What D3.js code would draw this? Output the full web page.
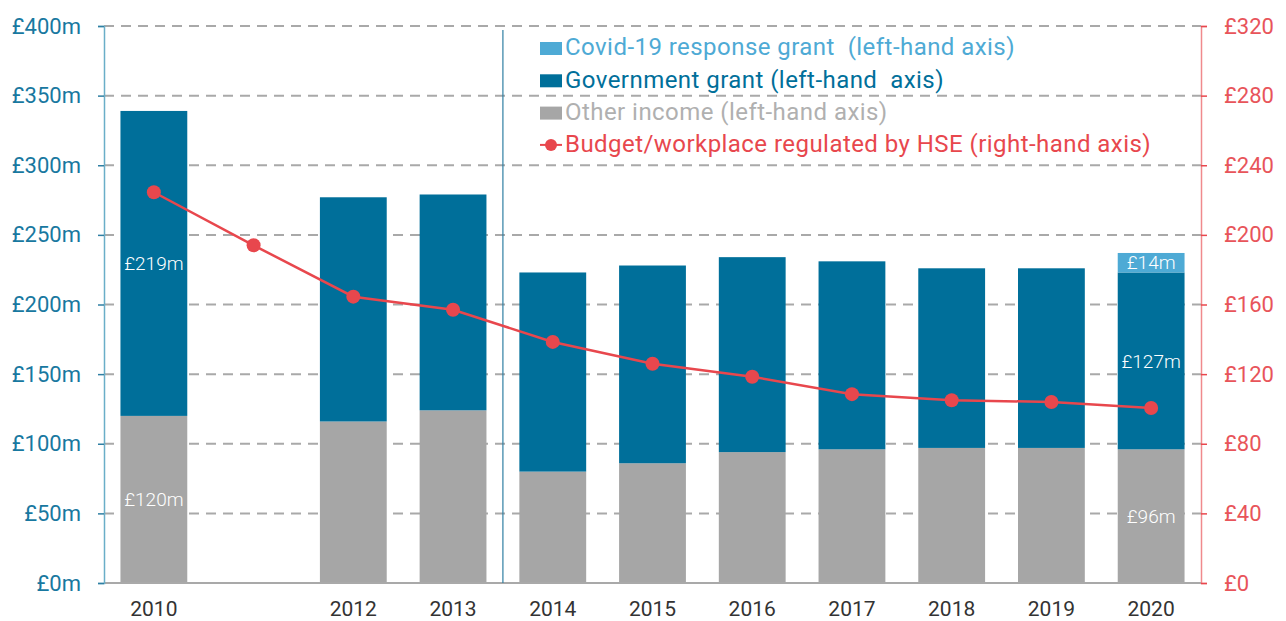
<!DOCTYPE html>
<html>
<head>
<meta charset="utf-8">
<script src="https://cdn.jsdelivr.net/npm/d3@7"></script>
<style>
  html, body { margin: 0; padding: 0; background: #fff; }
  svg { display: block; font-family: Roboto, "Noto Sans", sans-serif; }
  .legend text { white-space: pre; }
</style>
</head>
<body>
<svg id="chart" width="1286" height="621"></svg>
<script>
// Years on the x axis (2011 has only a line point)
const years = ["2010", "2011", "2012", "2013", "2014", "2015", "2016", "2017", "2018", "2019", "2020"];
// Income, £m (left-hand axis)
const otherIncome     = [120, null, 116, 124, 80, 86, 94, 96, 97, 97, 96];
const governmentGrant = [219, null, 161, 155, 143, 142, 140, 135, 129, 129, 127];
const covidGrant      = [0, null, 0, 0, 0, 0, 0, 0, 0, 0, 14];
// Budget per workplace regulated by HSE, £ (right-hand axis)
const budgetPerWorkplace = [224.5, 194, 164.5, 157, 138.5, 126, 118.5, 108.5, 105, 104, 100.5];
// Axis ticks
const leftTicks  = [0, 50, 100, 150, 200, 250, 300, 350, 400];
const rightTicks = [0, 40, 80, 120, 160, 200, 240, 280, 320];
// Values printed inside bars: [year index, series, value]
const barLabels = [
  [0, "other", 120], [0, "gov", 219],
  [10, "other", 96], [10, "gov", 127], [10, "covid", 14]
];

const C = {
  gov: "#006f9a", other: "#a6a6a6", covid: "#4eaad5",
  line: "#e8474d", leftText: "#1878a0", rightText: "#e8545a",
  grid: "#a9a9a9"
};

const svg = d3.select("#chart");
const M = { left: 104, right: 1201, top: 26, bottom: 583 };

const x = d3.scaleBand().domain(years).range([M.left, M.right]).paddingInner(0.33).paddingOuter(0.165);
const yL = d3.scaleLinear().domain([0, 400]).range([M.bottom, M.top]);
const yR = d3.scaleLinear().domain([0, 320]).range([M.bottom, M.top]);

// Dashed gridlines
svg.append("g").selectAll("line").data(leftTicks.filter(d => d > 0)).join("line")
  .attr("x1", M.left).attr("x2", M.right)
  .attr("y1", d => yL(d)).attr("y2", d => yL(d))
  .attr("stroke", C.grid).attr("stroke-width", 2).attr("stroke-dasharray", "10,7");

// Stacked bars
const rows = years.map((yr, i) => ({ yr, i, other: otherIncome[i], gov: governmentGrant[i], covid: covidGrant[i] }))
  .filter(d => d.other != null);
const stack = d3.stack().keys(["other", "gov", "covid"])(rows);
const barG = svg.append("g");
stack.forEach(layer => {
  barG.selectAll(null).data(layer.filter(d => d[1] > d[0])).join("rect")
    .attr("x", d => x(d.data.yr))
    .attr("width", x.bandwidth())
    .attr("y", d => yL(d[1]))
    .attr("height", d => yL(d[0]) - yL(d[1]))
    .attr("fill", C[layer.key]);
});

// Labels inside bars, centred in each segment
const keyIndex = { other: 0, gov: 1, covid: 2 };
svg.append("g").selectAll("text").data(barLabels).join("text")
  .attr("x", d => x(years[d[0]]) + x.bandwidth() / 2)
  .attr("y", d => {
    const seg = stack[keyIndex[d[1]]].find(s => s.data.i === d[0]);
    return (yL(seg[0]) + yL(seg[1])) / 2;
  })
  .attr("dy", "0.35em")
  .attr("text-anchor", "middle")
  .attr("fill", "#fff").attr("font-size", 19).attr("font-weight", 300)
  .text(d => "£" + d[2] + "m");

// Baseline
svg.append("line").attr("x1", M.left).attr("x2", M.right)
  .attr("y1", M.bottom).attr("y2", M.bottom)
  .attr("stroke", "#a9a9a9").attr("stroke-width", 2);

// Divider between 2013 and 2014
const divX = (x("2013") + x.bandwidth() + x("2014")) / 2;
svg.append("line").attr("x1", divX).attr("x2", divX)
  .attr("y1", 30).attr("y2", M.bottom)
  .attr("stroke", "#2f7fa3").attr("stroke-width", 1.2);

// Left axis
const axL = svg.append("g").attr("transform", `translate(${M.left},0)`)
  .call(d3.axisLeft(yL).tickValues(leftTicks).tickFormat(d => "£" + d + "m").tickSize(6).tickPadding(17));
axL.select(".domain").attr("stroke", "#6aaec8").attr("stroke-width", 1.5);
axL.selectAll(".tick line").attr("stroke", "#2f7fa3").attr("stroke-width", 1.5);
axL.selectAll("text").attr("fill", C.leftText).attr("font-size", 22).attr("font-family", "Roboto, sans-serif");

// Right axis
const axR = svg.append("g").attr("transform", `translate(${M.right},0)`)
  .call(d3.axisRight(yR).tickValues(rightTicks).tickFormat(d => "£" + d).tickSize(6).tickPadding(17));
axR.select(".domain").attr("stroke", "#f08a8d").attr("stroke-width", 1.5);
axR.selectAll(".tick line").attr("stroke", C.line).attr("stroke-width", 1.5);
axR.selectAll("text").attr("fill", C.rightText).attr("font-size", 22).attr("font-family", "Roboto, sans-serif");

// X axis labels
svg.append("g").selectAll("text").data(years.filter(y => y !== "2011")).join("text")
  .attr("x", d => x(d) + x.bandwidth() / 2).attr("y", 609)
  .attr("dy", "0.35em").attr("text-anchor", "middle")
  .attr("fill", "#333").attr("font-size", 21)
  .text(d => d);

// Budget per workplace line
const line = d3.line().x((d, i) => x(years[i]) + x.bandwidth() / 2).y(d => yR(d));
svg.append("path").datum(budgetPerWorkplace).attr("d", line)
  .attr("fill", "none").attr("stroke", C.line).attr("stroke-width", 2.5);
svg.append("g").selectAll("circle").data(budgetPerWorkplace).join("circle")
  .attr("cx", (d, i) => x(years[i]) + x.bandwidth() / 2).attr("cy", d => yR(d))
  .attr("r", 7).attr("fill", C.line);

// Legend
const legend = [
  { label: "Covid-19 response grant  (left-hand axis)", color: C.covid, type: "box" },
  { label: "Government grant (left-hand  axis)", color: C.gov, type: "box" },
  { label: "Other income (left-hand axis)", color: "#a6a6a6", text: "#b0b0b0", type: "box" },
  { label: "Budget/workplace regulated by HSE (right-hand axis)", color: C.line, type: "line" }
];
const lg = svg.append("g").attr("class", "legend").attr("transform", "translate(540,0)");
legend.forEach((d, i) => {
  const cy = 47 + i * 32.3;
  if (d.type === "box") {
    lg.append("rect").attr("x", 0).attr("y", cy - 5).attr("width", 22).attr("height", 13).attr("fill", d.color);
  } else {
    lg.append("line").attr("x1", 0).attr("x2", 22).attr("y1", cy + 1).attr("y2", cy + 1)
      .attr("stroke", d.color).attr("stroke-width", 2);
    lg.append("circle").attr("cx", 11).attr("cy", cy + 1).attr("r", 6).attr("fill", d.color);
  }
  lg.append("text").attr("x", 25).attr("y", cy).attr("dy", "0.35em")
    .attr("fill", d.text || d.color).attr("font-size", 24).attr("letter-spacing", 0.45)
    .text(d.label);
});
</script>
</body>
</html>
